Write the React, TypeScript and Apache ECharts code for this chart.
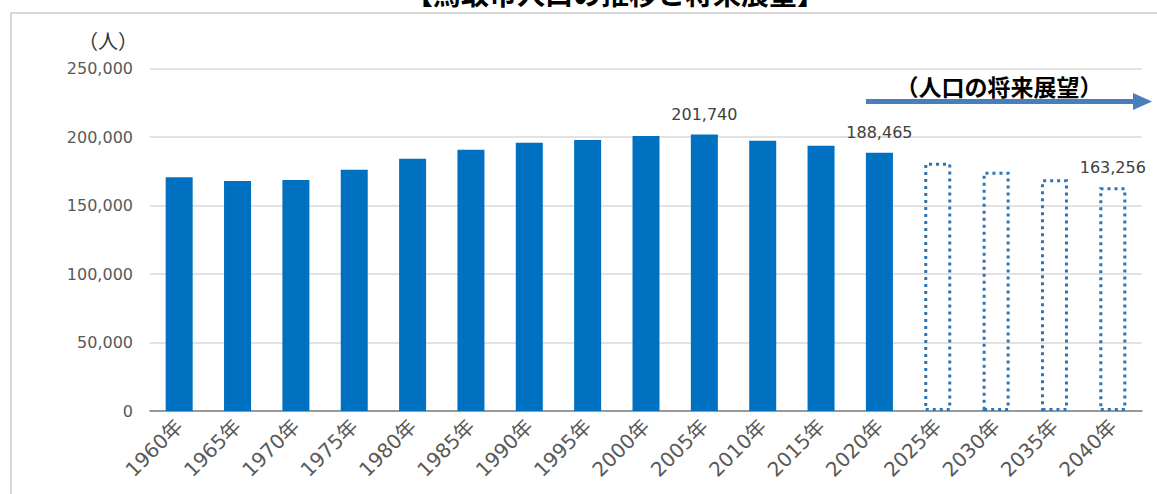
import React, { useEffect, useRef } from "react";
import * as echarts from "echarts";

const categories = [
  "1960年", "1965年", "1970年", "1975年", "1980年", "1985年", "1990年", "1995年",
  "2000年", "2005年", "2010年", "2015年", "2020年", "2025年", "2030年", "2035年", "2040年",
];
const actualValues = [
  170600, 167900, 168600, 176100, 184200, 190700, 195800, 197800, 200700, 201740, 197300, 193600, 188465,
];
const projectedValues = [181200, 174700, 169100, 163256];
const labeledCategories = ["2005年", "2020年", "2040年"];
const yMin = 0;
const yMax = 250000;
const yInterval = 50000;
const titleText = "【鳥取市人口の推移と将来展望】";
const unitText = "（人）";
const projectionText = "（人口の将来展望）";

const FONT = "'DejaVu Sans', 'Noto Sans CJK JP', sans-serif";
const CJK = "'Noto Sans CJK JP', sans-serif";

export default function App() {
  const ref = useRef<HTMLDivElement>(null);

  useEffect(() => {
    if (!ref.current) return;
    const chart = echarts.init(ref.current, undefined, { renderer: "svg" });

    const data = categories.map((c, i) => {
      const isProj = i >= actualValues.length;
      const value = isProj ? projectedValues[i - actualValues.length] : actualValues[i];
      return {
        value,
        itemStyle: isProj
          ? {
              color: "rgba(255,255,255,0)",
              borderColor: "#2e75b6",
              borderWidth: 3,
              borderType: [3, 4],
            }
          : { color: "#0070c0" },
        label: { show: labeledCategories.includes(c) },
      };
    });

    chart.setOption({
      animation: false,
      backgroundColor: "#ffffff",
      grid: { left: 150, right: 15, top: 68.5, bottom: 83, containLabel: false },
      xAxis: {
        type: "category",
        data: categories,
        axisTick: { show: false },
        axisLine: { lineStyle: { color: "#808080", width: 1.5 } },
        axisLabel: {
          rotate: 45,
          fontSize: 20,
          color: "#595959",
          fontFamily: FONT,
          margin: 12,
          interval: 0,
        },
      },
      yAxis: {
        type: "value",
        min: yMin,
        max: yMax,
        interval: yInterval,
        axisLine: { show: false },
        axisTick: { show: false },
        splitLine: { lineStyle: { color: "#d9d9d9", width: 1.5 } },
        axisLabel: {
          fontSize: 16,
          color: "#595959",
          fontFamily: FONT,
          margin: 17,
          formatter: (v: number) => v.toLocaleString("en-US"),
        },
      },
      series: [
        {
          type: "bar",
          data,
          barWidth: 27,
          label: {
            show: false,
            position: "top",
            distance: 12,
            fontSize: 16,
            color: "#404040",
            fontFamily: FONT,
            formatter: (p: any) => Number(p.value).toLocaleString("en-US"),
          },
        },
      ],
      graphic: [
        {
          type: "rect",
          shape: { x: 11, y: 13, width: 1200, height: 600 },
          style: { fill: "none", stroke: "#d9d9d9", lineWidth: 2 },
          silent: true,
        },
        {
          type: "text",
          x: 615,
          y: -7,
          style: {
            text: titleText,
            fontSize: 28,
            fontWeight: "bold",
            fontFamily: CJK,
            fill: "#000000",
            align: "center",
            verticalAlign: "middle",
          },
        },
        {
          type: "text",
          x: 108,
          y: 40,
          style: {
            text: unitText,
            fontSize: 20,
            fontFamily: CJK,
            fill: "#333333",
            align: "center",
            verticalAlign: "middle",
          },
        },
        {
          type: "line",
          shape: { x1: 866, y1: 101.5, x2: 1136, y2: 101.5 },
          style: { stroke: "#4a7ebb", lineWidth: 5 },
        },
        {
          type: "polygon",
          shape: { points: [[1133, 93], [1152, 101.5], [1133, 110]] },
          style: { fill: "#4a7ebb" },
        },
        {
          type: "text",
          x: 999,
          y: 86,
          style: {
            text: projectionText,
            fontSize: 23,
            fontWeight: "bold",
            fontFamily: CJK,
            fill: "#000000",
            align: "center",
            verticalAlign: "middle",
          },
        },
      ],
    });

    return () => chart.dispose();
  }, []);

  return (
    <div
      ref={ref}
      style={{ position: "fixed", left: 0, top: 0, width: 1157, height: 494 }}
    />
  );
}
